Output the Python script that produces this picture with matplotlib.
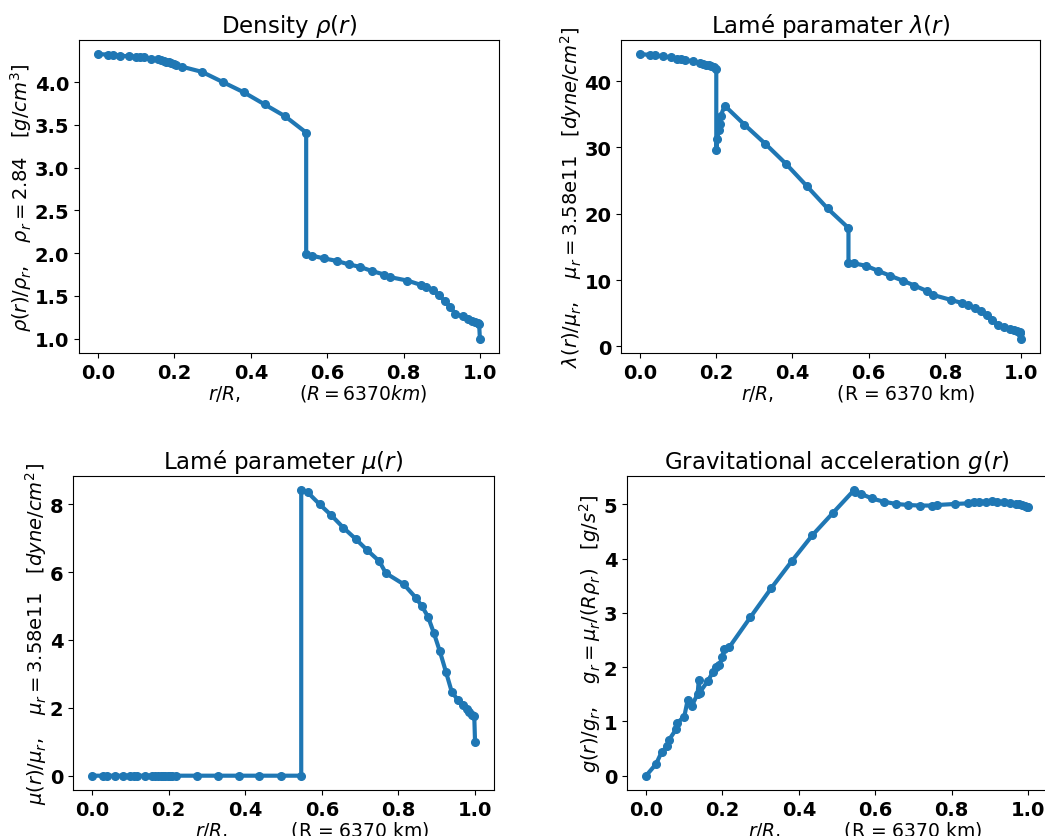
import matplotlib.pyplot as plt

# density panel
r_rho = [0, 0.025, 0.038, 0.057, 0.081, 0.098, 0.109, 0.119, 0.138, 0.157, 0.165, 0.172,
         0.179, 0.186, 0.192, 0.198, 0.204, 0.220, 0.272, 0.327, 0.382, 0.436, 0.490, 0.545,
         0.545, 0.561, 0.591, 0.625, 0.656, 0.686, 0.718, 0.750, 0.765, 0.810, 0.845, 0.859,
         0.877, 0.892, 0.908, 0.923, 0.936, 0.955, 0.969, 0.979, 0.987, 0.995, 0.998, 1.0]
rho = [4.327, 4.323, 4.315, 4.311, 4.30, 4.296, 4.292, 4.288, 4.27, 4.265, 4.26, 4.25,
       4.24, 4.23, 4.225, 4.21, 4.20, 4.18, 4.12, 4.00, 3.88, 3.74, 3.60, 3.41,
       1.99, 1.97, 1.94, 1.91, 1.87, 1.84, 1.79, 1.75, 1.72, 1.68, 1.63, 1.61,
       1.57, 1.51, 1.44, 1.37, 1.29, 1.26, 1.23, 1.21, 1.19, 1.18, 1.17, 1.0]

# lambda panel
r_lam = [0, 0.026, 0.039, 0.059, 0.081, 0.098, 0.108, 0.118, 0.138, 0.157, 0.164, 0.172,
         0.180, 0.186, 0.193, 0.200, 0.200, 0.203, 0.206, 0.209, 0.212, 0.222, 0.274, 0.329,
         0.383, 0.437, 0.492, 0.547, 0.547, 0.561, 0.594, 0.625, 0.657, 0.689, 0.720, 0.752,
         0.768, 0.815, 0.846, 0.862, 0.878, 0.894, 0.910, 0.925, 0.940, 0.956, 0.971, 0.981,
         0.989, 0.996, 0.998, 1.0]
lam = [44.06, 43.96, 43.86, 43.76, 43.56, 43.4, 43.3, 43.2, 42.96, 42.7, 42.6, 42.5,
       42.36, 42.2, 42.05, 41.85, 29.67, 31.3, 32.6, 33.6, 34.8, 36.3, 33.43, 30.53,
       27.52, 24.21, 20.80, 17.84, 12.63, 12.53, 12.13, 11.38, 10.63, 9.92, 9.17, 8.37,
       7.77, 7.02, 6.52, 6.17, 5.76, 5.26, 4.66, 3.96, 3.16, 2.86, 2.56, 2.41,
       2.31, 2.16, 2.0, 1.15]

# mu panel
r_mu = [0, 0.028, 0.039, 0.059, 0.080, 0.098, 0.108, 0.118, 0.138, 0.157, 0.164, 0.172,
        0.179, 0.185, 0.191, 0.197, 0.203, 0.209, 0.219, 0.274, 0.329, 0.383, 0.437, 0.492,
        0.546, 0.546, 0.563, 0.594, 0.625, 0.656, 0.688, 0.719, 0.750, 0.767, 0.814, 0.845,
        0.861, 0.877, 0.892, 0.908, 0.924, 0.939, 0.955, 0.969, 0.978, 0.985, 0.991, 0.998, 1.0]
mu = [0] * 25 + [8.41, 8.35, 8.0, 7.67, 7.31, 6.98, 6.64, 6.32, 5.97, 5.64, 5.25,
                 5.0, 4.69, 4.22, 3.67, 3.06, 2.48, 2.23, 2.07, 1.97, 1.87, 1.80, 1.75, 1.0]

# gravity panel
r_g = [0, 0.026, 0.041, 0.055, 0.059, 0.079, 0.081, 0.100, 0.109, 0.120, 0.135, 0.138,
       0.140, 0.162, 0.175, 0.182, 0.192, 0.199, 0.205, 0.218, 0.273, 0.328, 0.382, 0.435,
       0.490, 0.544, 0.546, 0.562, 0.591, 0.623, 0.654, 0.686, 0.717, 0.748, 0.763, 0.810,
       0.842, 0.858, 0.873, 0.889, 0.905, 0.920, 0.936, 0.952, 0.968, 0.976, 0.984, 0.991,
       0.998, 1.0]
g = [0, 0.215, 0.44, 0.54, 0.65, 0.86, 0.97, 1.09, 1.40, 1.29, 1.51, 1.77,
     1.53, 1.75, 1.91, 2.01, 2.04, 2.18, 2.33, 2.37, 2.92, 3.46, 3.96, 4.43,
     4.85, 5.26, 5.23, 5.20, 5.11, 5.05, 5.01, 4.99, 4.98, 4.98, 4.99, 5.01,
     5.02, 5.04, 5.05, 5.05, 5.06, 5.05, 5.04, 5.03, 5.01, 5.0, 4.99, 4.98,
     4.96, 4.96]

fig = plt.figure(figsize=(10.45, 8.37), dpi=100)
ax1 = fig.add_axes([0.0756, 0.5771, 0.4019, 0.374])
ax2 = fig.add_axes([0.5943, 0.5771, 0.401, 0.374])
ax3 = fig.add_axes([0.0699, 0.055, 0.403, 0.375])
ax4 = fig.add_axes([0.600, 0.055, 0.402, 0.375])

xl_km = r'$r/R,$          (R = 6370 km)'

panels = [
    (ax1, r_rho, rho, r'Density $\rho(r)$',
     r'$\rho(r)/\rho_r,\quad \rho_r = 2.84\quad [g/cm^3]$',
     r'$r/R, \qquad\quad (R = 6370km)$'),
    (ax2, r_lam, lam, r'Lamé paramater $\lambda(r)$',
     r'$\lambda(r)/\mu_r,\quad \mu_r = $3.58e11$\quad [dyne/cm^2]$', xl_km),
    (ax3, r_mu, mu, r'Lamé parameter $\mu(r)$',
     r'$\mu(r)/\mu_r,\quad \mu_r = $3.58e11$\quad [dyne/cm^2]$', xl_km),
    (ax4, r_g, g, r'Gravitational acceleration $g(r)$',
     r'$g(r)/g_r,\quad g_r = \mu_r/(R\rho_r)\quad [g/s^2]$', xl_km),
]

for ax, x, y, title, ylab, xlab in panels:
    ax.plot(x, y, '-o', color='#1f77b4', lw=3, ms=5.5)
    ax.set_title(title, fontsize=16.5)
    ax.set_ylabel(ylab, fontsize=14, labelpad=0.5)
    ax.set_xlabel(xlab, fontsize=13.5, labelpad=0)
    ax.xaxis.label.set_x(0.567)
    ax.set_xticks([0, 0.2, 0.4, 0.6, 0.8, 1.0])
    for lab in ax.get_xticklabels() + ax.get_yticklabels():
        lab.set_fontsize(14)
        lab.set_fontweight('bold')

fig.savefig('out.png', dpi=100)
